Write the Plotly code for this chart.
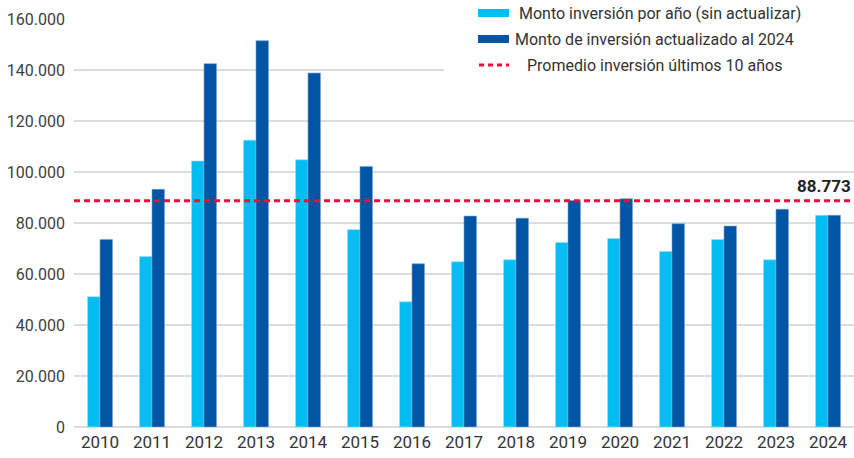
import plotly.graph_objects as go

years = ["2010", "2011", "2012", "2013", "2014", "2015", "2016", "2017",
         "2018", "2019", "2020", "2021", "2022", "2023", "2024"]
monto_sin_actualizar = [51100, 66900, 104300, 112500, 104800, 77400, 49100, 64800,
                        65600, 72400, 73900, 68800, 73500, 65600, 83000]
monto_actualizado = [73500, 93200, 142500, 151500, 138800, 102200, 64000, 82700,
                     81900, 88800, 89500, 79700, 78800, 85400, 83000]
promedio = 88773
promedio_label = "88.773"
legend_labels = ["Monto inversión por año (sin actualizar)",
                 "Monto de inversión actualizado al 2024",
                 "Promedio inversión últimos 10 años"]
y_ticks = [0, 20000, 40000, 60000, 80000, 100000, 120000, 140000, 160000]

LIGHT = "#00BEF2"
DARK = "#0055A4"
RED = "#E8113A"
FONT = "Roboto"

W, H = 854, 458
L, R, T, B = 74, 0, 19, 31
PW, PH = W - L - R, H - T - B

fig = go.Figure()
fig.add_trace(go.Bar(x=years, y=monto_sin_actualizar, name=legend_labels[0],
                     marker=dict(color=LIGHT, line=dict(color="#9fdcf5", width=0.6)),
                     showlegend=False))
fig.add_trace(go.Bar(x=years, y=monto_actualizado, name=legend_labels[1],
                     marker=dict(color=DARK, line=dict(color="#7a9fcc", width=0.6)),
                     showlegend=False))

# average line
fig.add_shape(type="line", xref="paper", yref="y", x0=0, x1=1, y0=promedio, y1=promedio,
              line=dict(color=RED, width=3, dash="6px,4px"), layer="above")
fig.add_annotation(xref="paper", yref="y", x=1, y=promedio, text="<b>" + promedio_label + "</b>",
                   showarrow=False, xanchor="right", yanchor="bottom", yshift=3, xshift=-1,
                   font=dict(family=FONT, size=17, color="#222222"))


def xp(x):
    return (x - L) / PW


def yp(y):
    return (H - B - y) / PH


# white box behind the legend covering gridlines
fig.add_shape(type="rect", xref="paper", yref="paper", x0=xp(444), x1=xp(W + 2),
              y0=yp(80), y1=yp(-2), fillcolor="white", line=dict(width=0), layer="above")

items = [(13, LIGHT, "solid", 517), (39, DARK, "solid", 513), (65, RED, "dot", 525)]
for (yc, col, kind, tx), lab in zip(items, legend_labels):
    if kind == "solid":
        fig.add_shape(type="rect", xref="paper", yref="paper", x0=xp(478), x1=xp(509),
                      y0=yp(yc + 4), y1=yp(yc - 4), fillcolor=col, line=dict(width=0),
                      layer="above")
    else:
        fig.add_shape(type="line", xref="paper", yref="paper", x0=xp(479), x1=xp(509),
                      y0=yp(yc), y1=yp(yc), line=dict(color=col, width=3, dash="5px,4px"),
                      layer="above")
    fig.add_annotation(xref="paper", yref="paper", x=xp(tx), y=yp(yc), text=lab,
                       showarrow=False, xanchor="left", yanchor="middle",
                       font=dict(family=FONT, size=16, color="#333333"))

fig.update_layout(
    width=W, height=H,
    margin=dict(l=L, r=R, t=T, b=B, autoexpand=False),
    paper_bgcolor="white", plot_bgcolor="white",
    barmode="group", bargap=0.52, bargroupgap=0,
    separators=",.",
    font=dict(family=FONT, size=15, color="#404040"),
    showlegend=False,
    hovermode=False,
    xaxis=dict(type="category", showgrid=False, showline=False, ticks="", automargin=False,
               tickfont=dict(family=FONT, size=17, color="#333333"), ticklabelstandoff=3),
    yaxis=dict(range=[0, 160000], tickvals=y_ticks, tickformat=",d", automargin=False,
               showgrid=True, gridcolor="#dcdcdc", gridwidth=1.5,
               zeroline=True, zerolinecolor="#dcdcdc", zerolinewidth=1.5,
               showline=False, ticks="", ticklabelstandoff=8,
               tickfont=dict(family=FONT, size=16, color="#404040")),
)

fig.write_html("out.html", config={"displayModeBar": False, "staticPlot": True},
               post_script="document.body.style.margin='0';document.body.style.overflow='hidden';")
